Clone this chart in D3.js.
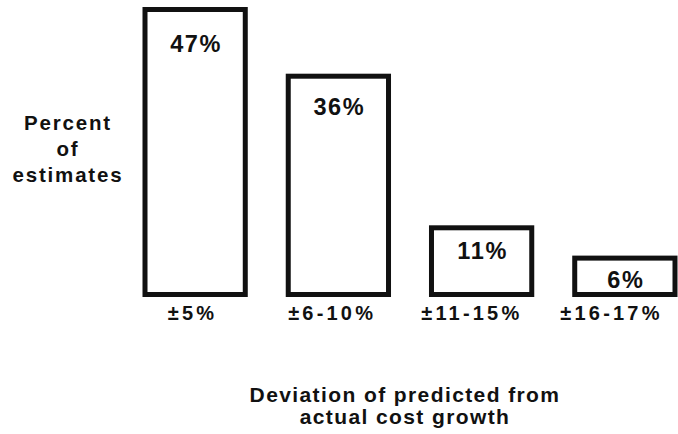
<!DOCTYPE html>
<html>
<head>
<meta charset="utf-8">
<script src="https://cdn.jsdelivr.net/npm/d3@7"></script>
<style>
  html, body { margin: 0; padding: 0; background: #fff; }
  svg { display: block; }
  text { font-family: "Liberation Sans", Arial, sans-serif; font-weight: bold; fill: #111; }
</style>
</head>
<body>
<svg id="chart" width="678" height="434"></svg>
<script>
// Share of estimates by deviation band
const categories = ["±5%", "±6-10%", "±11-15%", "±16-17%"];
const percents = [47, 36, 11, 6];
const yTitleLines = ["Percent", "of", "estimates"];
const xTitleLines = ["Deviation of predicted from", "actual cost growth"];

const svg = d3.select("#chart");
const ink = "#111";

const x = d3.scaleBand()
  .domain(categories)
  .range([145, 675])
  .paddingInner(0.3)
  .paddingOuter(0);

// category captions sit on their own, slightly tighter, spacing
const xLabel = d3.scalePoint()
  .domain(categories)
  .range([191, 610]);

const y = d3.scaleLinear()
  .domain([0, 47])
  .range([294.5, 9.5]);

const data = categories.map((c, i) => ({ cat: c, value: percents[i] }));

// bars: white boxes with heavy outlines
svg.append("g")
  .selectAll("rect")
  .data(data)
  .join("rect")
  .attr("x", d => x(d.cat))
  .attr("y", d => y(d.value))
  .attr("width", x.bandwidth())
  .attr("height", d => y(0) - y(d.value))
  .attr("fill", "#fff")
  .attr("stroke", ink)
  .attr("stroke-width", 5);

// value labels inside the top of each bar
svg.append("g")
  .selectAll("text")
  .data(data)
  .join("text")
  .attr("x", d => x(d.cat) + x.bandwidth() / 2 + 1)
  .attr("y", d => {
    const h = y(0) - y(d.value);
    return y(d.value) + 28 + h * 0.05;
  })
  .attr("text-anchor", "middle")
  .attr("font-size", 23.5)
  .attr("letter-spacing", 1.6)
  .text(d => d.value + "%");

// category captions under the bars
svg.append("g")
  .selectAll("text")
  .data(categories)
  .join("text")
  .attr("x", d => xLabel(d) + 1.5)
  .attr("y", 320)
  .attr("text-anchor", "middle")
  .attr("font-size", 20)
  .attr("letter-spacing", 3.2)
  .text(d => d);

// vertical axis title, stacked to the left
svg.append("g")
  .selectAll("text")
  .data(yTitleLines)
  .join("text")
  .attr("x", 68)
  .attr("y", (d, i) => 130 + i * 26)
  .attr("text-anchor", "middle")
  .attr("font-size", 20.5)
  .attr("letter-spacing", 1.8)
  .text(d => d);

// horizontal axis title, two centred lines
svg.append("g")
  .selectAll("text")
  .data(xTitleLines)
  .join("text")
  .attr("x", 405)
  .attr("y", (d, i) => 402 + i * 22)
  .attr("text-anchor", "middle")
  .attr("font-size", 21)
  .attr("letter-spacing", 1.4)
  .text(d => d);
</script>
</body>
</html>
